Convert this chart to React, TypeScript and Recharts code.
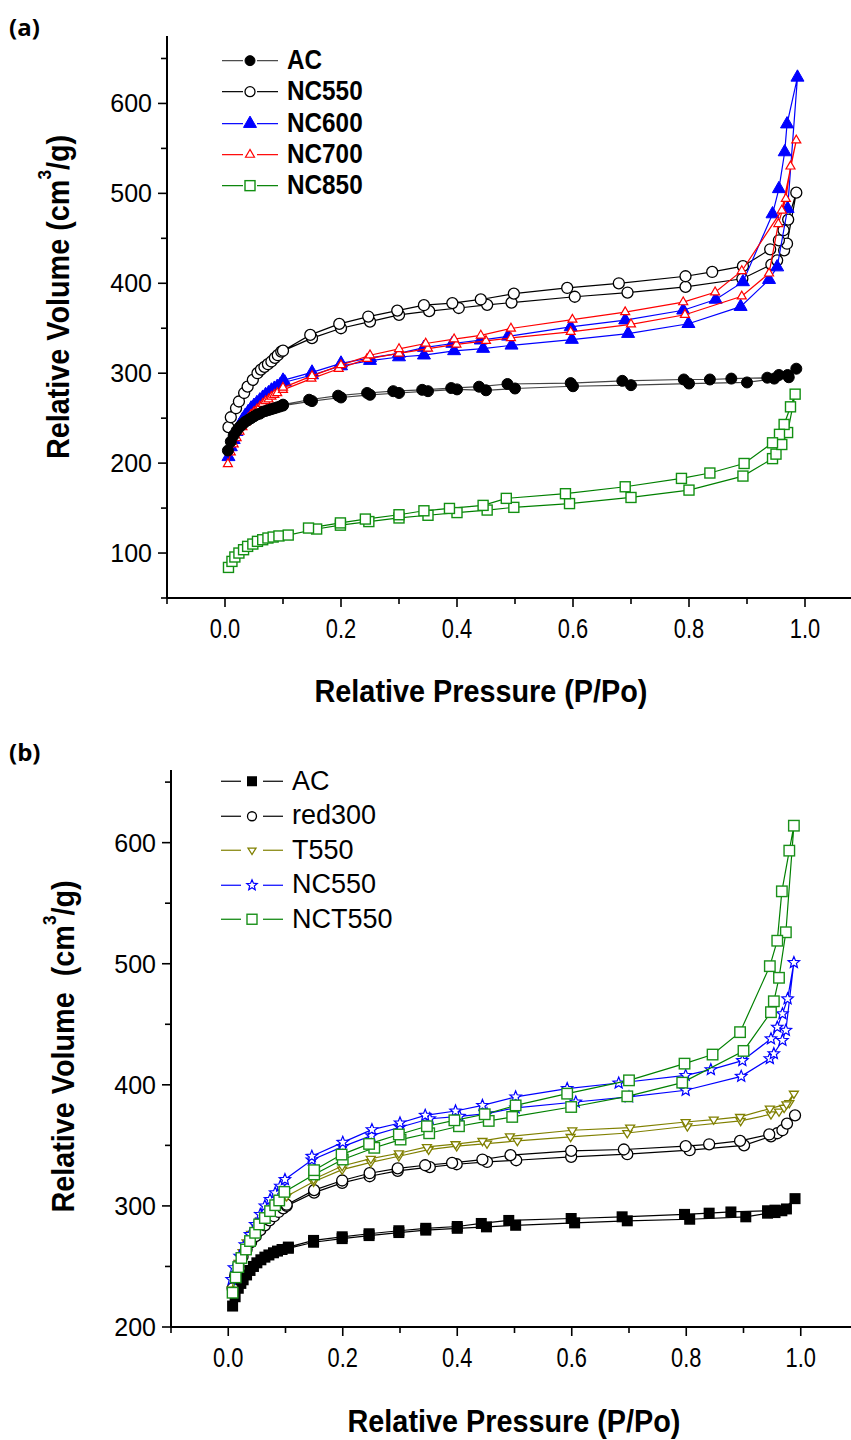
import React from "react";
import { ScatterChart, Scatter, XAxis, YAxis } from "recharts";

// ─── (a) data: P/Po and volume, adsorption then desorption ───────────────────
const acP = [0.005, 0.01, 0.015, 0.02, 0.025, 0.03, 0.035, 0.04, 0.045, 0.05, 0.055, 0.06, 0.065, 0.07, 0.075, 0.08, 0.085, 0.09, 0.095, 0.1,
  0.15, 0.2, 0.25, 0.3, 0.35, 0.4, 0.45, 0.5, 0.6, 0.7, 0.8, 0.9, 0.947, 0.972, 0.985,
  0.97, 0.955, 0.935, 0.873, 0.836, 0.791, 0.685, 0.596, 0.487, 0.438, 0.39, 0.34, 0.29, 0.245, 0.195, 0.145, 0.1];
const acV = [214, 224, 231, 236, 240, 243, 246, 248, 250, 252, 254, 255, 257, 258, 259, 260, 261, 262, 263, 264,
  269, 273, 276, 278, 280, 282, 281, 283, 285.5, 286.7, 288.5, 289.7, 294, 295.5, 305,
  298, 298, 295, 294, 293, 293, 291.5, 289, 288, 285, 283.5, 281.5, 280, 278, 275, 270.5, 265];

const nc550P = [0.006, 0.01, 0.019, 0.024, 0.033, 0.039, 0.048, 0.056, 0.062, 0.068, 0.074, 0.08, 0.086, 0.091, 0.097,
  0.15, 0.2, 0.25, 0.3, 0.352, 0.403, 0.452, 0.494, 0.603, 0.694, 0.794, 0.892, 0.942, 0.952, 0.964, 0.969, 0.985,
  0.971, 0.963, 0.955, 0.94, 0.893, 0.84, 0.794, 0.679, 0.59, 0.498, 0.441, 0.392, 0.343, 0.297, 0.247, 0.197, 0.147, 0.1];
const nc550V = [240, 251, 261, 268.5, 278, 285, 292.6, 300, 304, 307, 310, 313, 317, 320, 324,
  339, 350, 357.4, 364.8, 369, 372.5, 376, 378.5, 385, 389.7, 396, 405, 420.8, 425.5, 436.7, 444, 500.8,
  470.8, 459, 447.8, 437.8, 419, 412.6, 407.8, 400, 394.8, 388.5, 382, 378, 375.6, 369.6, 363, 354.8, 342.6, 325];

const nc600P = [0.006, 0.01, 0.015, 0.02, 0.025, 0.03, 0.035, 0.04, 0.045, 0.05, 0.055, 0.06, 0.065, 0.07, 0.075, 0.08, 0.085, 0.09, 0.095, 0.103,
  0.15, 0.2, 0.25, 0.3, 0.343, 0.395, 0.445, 0.494, 0.598, 0.695, 0.799, 0.889, 0.938, 0.952, 0.97, 0.987,
  0.969, 0.965, 0.955, 0.944, 0.893, 0.846, 0.79, 0.69, 0.596, 0.488, 0.441, 0.392, 0.343, 0.3, 0.25, 0.2, 0.15, 0.1];
const nc600V = [207, 218, 226, 235, 242, 248, 253, 257, 261, 264, 267, 270, 273, 276, 278, 281, 283, 285, 287, 290,
  298, 308, 314, 318, 320, 324.8, 327.4, 331, 337.4, 344, 355, 374, 404, 418, 483, 629,
  577, 546, 505, 477, 401.5, 382, 370, 359, 351.5, 341, 336.7, 333, 328.5, 322, 317, 311, 301, 292];

const nc700P = [0.005, 0.01, 0.015, 0.02, 0.025, 0.03, 0.035, 0.04, 0.045, 0.05, 0.055, 0.06, 0.065, 0.07, 0.075, 0.08, 0.085, 0.09, 0.1,
  0.149, 0.196, 0.245, 0.3, 0.35, 0.399, 0.45, 0.493, 0.596, 0.7, 0.793, 0.891, 0.938, 0.954, 0.967, 0.975, 0.985,
  0.96, 0.891, 0.845, 0.79, 0.69, 0.599, 0.493, 0.441, 0.395, 0.346, 0.3, 0.25, 0.2, 0.15, 0.1];
const nc700V = [199, 212, 221, 228, 235, 240, 245, 250, 254, 257, 260, 263, 266, 269, 271, 274, 276, 278, 281.5,
  294, 305, 316, 322, 327.4, 332, 336, 339.2, 346, 354.4, 365, 385.5, 411, 466, 494, 530, 559,
  481, 413.7, 390, 379, 368, 359.6, 349.7, 342, 337.8, 333, 327, 320, 309, 297, 284];

const nc850P = [0.006, 0.012, 0.017, 0.024, 0.032, 0.039, 0.048, 0.056, 0.065, 0.074, 0.083, 0.093, 0.109,
  0.158, 0.199, 0.248, 0.3, 0.35, 0.4, 0.452, 0.498, 0.594, 0.7, 0.8, 0.893, 0.944, 0.95, 0.96, 0.97, 0.983,
  0.975, 0.964, 0.956, 0.944, 0.895, 0.836, 0.787, 0.69, 0.587, 0.485, 0.445, 0.387, 0.343, 0.3, 0.242, 0.199, 0.144];
const nc850V = [84, 90.7, 95.6, 100, 103.7, 107.4, 110, 113, 114.8, 116.7, 117.8, 119, 120,
  126.7, 131, 135, 139, 142, 145, 147.8, 150.8, 155, 161.8, 170, 185.6, 205, 210, 220.7, 234, 276.7,
  262.6, 243, 232, 222.6, 199.6, 189, 183, 173.7, 166, 160.8, 153, 149.6, 147, 142.6, 137.8, 133.5, 127.8];

// ─── (b) data ────────────────────────────────────────────────────────────────
const acbP = [0.0076, 0.012, 0.0175, 0.022, 0.026, 0.032, 0.038, 0.044, 0.05, 0.057, 0.064, 0.071, 0.079, 0.086, 0.094, 0.105,
  0.149, 0.199, 0.246, 0.298, 0.345, 0.4, 0.451, 0.502, 0.605, 0.697, 0.806, 0.904, 0.942, 0.955, 0.967, 0.99,
  0.975, 0.955, 0.942, 0.878, 0.84, 0.797, 0.688, 0.599, 0.49, 0.442, 0.4, 0.345, 0.298, 0.246, 0.199, 0.149, 0.105];
const acbV = [217.3, 225, 232, 236, 239, 243, 246.7, 250, 253, 255.5, 257.7, 259.5, 261.3, 262.7, 264, 265,
  270, 273, 275.5, 278, 280, 281.5, 282.7, 284, 286, 287.7, 289, 291, 294, 294.5, 296, 306,
  297.5, 296.5, 296, 295, 294, 293, 291, 289.6, 288, 285.5, 283, 281.5, 279.5, 277, 274.5, 271.5, 266];

const red300P = [0.0076, 0.012, 0.018, 0.025, 0.032, 0.04, 0.048, 0.056, 0.064, 0.072, 0.08, 0.088, 0.096, 0.102,
  0.15, 0.199, 0.247, 0.296, 0.352, 0.399, 0.452, 0.503, 0.599, 0.697, 0.806, 0.901, 0.948, 0.959, 0.968, 0.99,
  0.976, 0.945, 0.894, 0.84, 0.799, 0.691, 0.599, 0.493, 0.444, 0.391, 0.344, 0.296, 0.247, 0.199, 0.15, 0.102];
const red300V = [232, 242, 250, 258, 264, 270, 275, 280, 284, 288, 291.5, 295, 298, 300,
  311, 319, 324.5, 329, 332, 334.4, 336.3, 337.7, 340.5, 342.7, 346, 350, 357.5, 360, 362.5, 374.8,
  368, 359, 353.7, 350.9, 349.3, 346.6, 345.4, 341.9, 338.3, 335.5, 333.6, 331, 327, 321, 313, 301];

const t550P = [0.006, 0.012, 0.018, 0.025, 0.032, 0.04, 0.048, 0.056, 0.064, 0.072, 0.08, 0.088, 0.096, 0.102,
  0.149, 0.199, 0.249, 0.298, 0.35, 0.399, 0.452, 0.505, 0.598, 0.697, 0.802, 0.895, 0.948, 0.962, 0.971, 0.98, 0.988,
  0.975, 0.946, 0.894, 0.848, 0.799, 0.702, 0.601, 0.492, 0.444, 0.397, 0.347, 0.298, 0.249, 0.199, 0.149];
const t550V = [231, 243, 253, 262, 270, 277, 283, 288, 292.5, 296.5, 300, 303, 306, 308,
  320, 330, 336, 341, 346.5, 349.3, 351.5, 353.7, 357, 360.2, 365.8, 370.2, 375.7, 378, 381, 385, 392.7,
  384, 380.4, 373.5, 371.3, 369.3, 364.7, 362.5, 357.5, 353.7, 351, 348.7, 343.5, 339, 333, 322];

const nc550bP = [0.006, 0.01, 0.02, 0.029, 0.038, 0.047, 0.056, 0.064, 0.073, 0.082, 0.091, 0.099,
  0.146, 0.2, 0.25, 0.3, 0.352, 0.404, 0.452, 0.502, 0.607, 0.7, 0.799, 0.896, 0.946, 0.953, 0.968, 0.974, 0.988,
  0.977, 0.968, 0.959, 0.948, 0.898, 0.843, 0.799, 0.682, 0.592, 0.502, 0.444, 0.397, 0.344, 0.3, 0.251, 0.2, 0.146];
const nc550bV = [239.3, 249, 258.5, 268, 276.4, 284.7, 293, 300, 305.3, 310.8, 316.3, 321.8,
  338, 349, 358, 365, 372, 374, 376.2, 381, 385.8, 390, 395.5, 407, 421.6, 425.7, 436.7, 445, 501,
  471, 458.7, 447.6, 438, 420, 412.5, 407.8, 401.5, 396.9, 390, 383, 378.4, 374.8, 368.5, 363, 352.5, 341];

const nct550P = [0.0076, 0.013, 0.0175, 0.023, 0.031, 0.038, 0.047, 0.054, 0.064, 0.073, 0.082, 0.089, 0.098,
  0.15, 0.2, 0.255, 0.301, 0.351, 0.403, 0.455, 0.496, 0.599, 0.697, 0.793, 0.9, 0.948, 0.953, 0.962, 0.974, 0.988,
  0.98, 0.967, 0.959, 0.946, 0.894, 0.846, 0.797, 0.7, 0.592, 0.502, 0.448, 0.395, 0.347, 0.298, 0.246, 0.198, 0.15];
const nct550V = [228.3, 241, 249.5, 257, 264, 271, 277.8, 284.7, 290, 295.7, 300.6, 304.5, 311.6,
  326, 338.3, 348, 354.8, 360, 365.8, 370.2, 373.5, 381.7, 390.5, 401.8, 428, 460, 469, 488.4, 526, 614,
  593.4, 559.8, 519, 498, 443.5, 425, 417.5, 403.7, 392.7, 383, 375.7, 370.7, 365.8, 359, 351.2, 342.4, 329.5];

// ─── axes ────────────────────────────────────────────────────────────────────
const xTicks = [-0.1, 0, 0.1, 0.2, 0.3, 0.4, 0.5, 0.6, 0.7, 0.8, 0.9, 1.0];
const yTicksA = [50, 100, 150, 200, 250, 300, 350, 400, 450, 500, 550, 600, 650];
const yTicksB = [200, 250, 300, 350, 400, 450, 500, 550, 600, 650];

const zip = (p: number[], v: number[]) => p.map((x, i) => ({ p: x, v: v[i] }));

const SANS = '"Liberation Sans", Arial, sans-serif';

type Kind = "circleFill" | "circleOpen" | "triFill" | "triOpen" | "triDownOpen" | "sqFill" | "sqOpen" | "starOpen";

function Marker({ kind, cx, cy, color, size }: { kind: Kind; cx: number; cy: number; color: string; size: number }) {
  if (cx == null || cy == null) return null;
  const s = size;
  switch (kind) {
    case "circleFill":
      return <circle cx={cx} cy={cy} r={s / 2} fill={color} stroke={color} strokeWidth={1} />;
    case "circleOpen":
      return <circle cx={cx} cy={cy} r={s / 2} fill="#fff" stroke={color} strokeWidth={1.3} />;
    case "triFill":
    case "triOpen": {
      const h = s * 0.87;
      const pts = `${cx},${cy - (h * 2) / 3} ${cx - s / 2},${cy + h / 3} ${cx + s / 2},${cy + h / 3}`;
      return kind === "triFill"
        ? <polygon points={pts} fill={color} stroke={color} strokeWidth={1} />
        : <polygon points={pts} fill="#fff" stroke={color} strokeWidth={1.2} />;
    }
    case "triDownOpen": {
      const h = s * 0.8;
      const pts = `${cx},${cy + (h * 2) / 3} ${cx - s / 2},${cy - h / 3} ${cx + s / 2},${cy - h / 3}`;
      return <polygon points={pts} fill="#fff" stroke={color} strokeWidth={1.3} />;
    }
    case "sqFill":
      return <rect x={cx - s / 2} y={cy - s / 2} width={s} height={s} fill={color} />;
    case "sqOpen":
      return <rect x={cx - s / 2} y={cy - s / 2} width={s} height={s} fill="#fff" stroke={color} strokeWidth={1.4} />;
    case "starOpen": {
      const pts: string[] = [];
      for (let i = 0; i < 10; i++) {
        const r = i % 2 === 0 ? s / 2 : s * 0.22;
        const a = -Math.PI / 2 + (i * Math.PI) / 5;
        pts.push(`${cx + r * Math.cos(a)},${cy + r * Math.sin(a)}`);
      }
      return <polygon points={pts.join(" ")} fill="#fff" stroke={color} strokeWidth={1.2} />;
    }
  }
  return null;
}

type Series = { name: string; data: { p: number; v: number }[]; color: string; line: string; kind: Kind; size: number; legendSize: number };

const seriesA: Series[] = [
  { name: "AC", data: zip(acP, acV), color: "#000", line: "#444", kind: "circleFill", size: 11, legendSize: 10 },
  { name: "NC550", data: zip(nc550P, nc550V), color: "#000", line: "#000", kind: "circleOpen", size: 11, legendSize: 10 },
  { name: "NC600", data: zip(nc600P, nc600V), color: "#0000ff", line: "#0000ff", kind: "triFill", size: 13, legendSize: 13 },
  { name: "NC700", data: zip(nc700P, nc700V), color: "#ff0000", line: "#ff0000", kind: "triOpen", size: 9, legendSize: 9 },
  { name: "NC850", data: zip(nc850P, nc850V), color: "#129012", line: "#008000", kind: "sqOpen", size: 10, legendSize: 10 },
];
// draw order: filled AC on top at low pressure
const drawOrderA = [4, 1, 2, 3, 0];

const seriesB: Series[] = [
  { name: "AC", data: zip(acbP, acbV), color: "#000", line: "#000", kind: "sqFill", size: 11, legendSize: 10 },
  { name: "red300", data: zip(red300P, red300V), color: "#000", line: "#000", kind: "circleOpen", size: 11, legendSize: 9 },
  { name: "T550", data: zip(t550P, t550V), color: "#808000", line: "#808000", kind: "triDownOpen", size: 9, legendSize: 8 },
  { name: "NC550", data: zip(nc550bP, nc550bV), color: "#0000ff", line: "#0000ff", kind: "starOpen", size: 12, legendSize: 11 },
  { name: "NCT550", data: zip(nct550P, nct550V), color: "#1a901a", line: "#008000", kind: "sqOpen", size: 10.5, legendSize: 10 },
];

// narrow-looking tick labels: regular sans squeezed horizontally
function XTick(props: any) {
  const { x, y, payload } = props;
  const v = payload.value as number;
  const t = Math.round(v * 10);
  const major = t % 2 === 0 && t >= 0;
  return (
    <g>
      <line x1={x} x2={x} y1={y} y2={y + (major ? 9 : 6)} stroke="#000" strokeWidth={1.6} />
      {major && (
        <text transform={`translate(${x},${y + 40}) scale(0.78,1)`} textAnchor="middle" fontSize={28} fontFamily={SANS} fill="#000">
          {(t / 10).toFixed(1)}
        </text>
      )}
    </g>
  );
}

function makeYTick(lo: number, hi: number) {
  return (props: any) => {
    const { x, y, payload } = props;
    const v = payload.value as number;
    const major = v % 100 === 0;
    return (
      <g>
        <line x1={x - (major ? 9 : 6)} x2={x} y1={y} y2={y} stroke="#000" strokeWidth={1.6} />
        {major && v >= lo && v <= hi && (
          <text x={x - 15} y={y + 9} textAnchor="end" fontSize={25} fontFamily={SANS} fill="#000">
            {v}
          </text>
        )}
      </g>
    );
  };
}

function yTitle(dx: number, dy: number, gap: string) {
  return (props: any) => {
    const vb = props.viewBox;
    const cx = vb.x + dx;
    const cy = vb.y + vb.height / 2 + dy;
    return (
      <text transform={`translate(${cx},${cy}) rotate(-90) scale(0.9,1)`} textAnchor="middle" dominantBaseline="central"
        fontSize={32} fontWeight="bold" fontFamily={SANS} fill="#000" style={{ whiteSpace: "pre" }}>
        {`Relative Volume${gap}(cm`}
        <tspan dy={-12} fontSize={19}>3</tspan>
        <tspan dy={12}>/g)</tspan>
      </text>
    );
  };
}

function xTitle(dx: number, dy: number) {
  return (props: any) => {
    const vb = props.viewBox;
    return (
      <text transform={`translate(${vb.x + dx},${vb.y + dy}) scale(0.9,1)`} textAnchor="middle" dominantBaseline="central"
        fontSize={32} fontWeight="bold" fontFamily={SANS} fill="#000">
        Relative Pressure (P/Po)
      </text>
    );
  };
}

function Legend({ series, top, left, rowH, bold, fontSize, squeeze, seg }: {
  series: Series[]; top: number; left: number; rowH: number; bold: boolean; fontSize: number; squeeze: number;
  seg: [number, number, number, number, number];
}) {
  const [a1, a2, mx, b1, b2] = seg;
  return (
    <div style={{ position: "absolute", top, left }}>
      {series.map((s) => (
        <div key={s.name} style={{ display: "flex", alignItems: "center", height: rowH }}>
          <svg width={b2 + 2} height={rowH} style={{ display: "block" }}>
            <line x1={a1} x2={a2} y1={rowH / 2} y2={rowH / 2} stroke={s.line} strokeWidth={1.2} />
            <line x1={b1} x2={b2} y1={rowH / 2} y2={rowH / 2} stroke={s.line} strokeWidth={1.2} />
            <Marker kind={s.kind} cx={mx} cy={rowH / 2} color={s.color} size={s.legendSize} />
          </svg>
          <span style={{
            marginLeft: 7, fontFamily: SANS, fontWeight: bold ? 700 : 400, fontSize, lineHeight: 1,
            display: "inline-block", transform: `scaleX(${squeeze})`, transformOrigin: "left center", whiteSpace: "nowrap",
          }}>
            {s.name}
          </span>
        </div>
      ))}
    </div>
  );
}

function Panel({ series, order, yDomain, yTicks, lo, hi, margin, yWidth, xHeight, titleY, titleX }: {
  series: Series[]; order: number[]; yDomain: [number, number]; yTicks: number[]; lo: number; hi: number;
  margin: { top: number; right: number; bottom: number; left: number }; yWidth: number; xHeight: number;
  titleY: (p: any) => React.ReactElement; titleX: (p: any) => React.ReactElement;
}) {
  return (
    <ScatterChart width={880} height={720} margin={margin}>
      <XAxis type="number" dataKey="p" domain={[-0.1, 1.1]} ticks={xTicks} allowDataOverflow
        axisLine={{ stroke: "#000", strokeWidth: 2 }} tickLine={false} tickSize={0} tickMargin={0}
        height={xHeight} tick={<XTick />} interval={0} label={titleX} />
      <YAxis type="number" dataKey="v" domain={yDomain} ticks={yTicks} allowDataOverflow
        axisLine={{ stroke: "#000", strokeWidth: 2 }} tickLine={false} tickSize={0} tickMargin={0}
        width={yWidth} tick={makeYTick(lo, hi)} interval={0} label={titleY} />
      {order.map((i) => {
        const s = series[i];
        return (
          <Scatter key={s.name} name={s.name} data={s.data} isAnimationActive={false}
            line={{ stroke: s.line, strokeWidth: 1.2 }} lineType="joint"
            shape={(p: any) => <Marker kind={s.kind} cx={p.cx} cy={p.cy} color={s.color} size={s.size} />} />
        );
      })}
    </ScatterChart>
  );
}

const panelLabel: React.CSSProperties = {
  position: "absolute", left: 9, fontFamily: '"Open Sans", sans-serif', fontWeight: 700, fontSize: 24, lineHeight: "30px",
};

export default function App() {
  return (
    <div style={{ position: "absolute", left: 0, top: 0, width: 851, height: 1440, overflow: "hidden", background: "#fff", fontFamily: SANS }}>
      <div style={{ position: "absolute", left: 0, top: 0 }}>
        <Panel series={seriesA} order={drawOrderA} yDomain={[50, 675]} yTicks={yTicksA} lo={100} hi={600}
          margin={{ top: 36, right: 17, bottom: 0, left: 0 }} yWidth={167} xHeight={122}
          titleY={yTitle(57, -20, " ")} titleX={xTitle(314, 92)} />
      </div>
      <div style={{ position: "absolute", left: 0, top: 720 }}>
        <Panel series={seriesB} order={[0, 1, 2, 3, 4]} yDomain={[200, 660]} yTicks={yTicksB} lo={200} hi={600}
          margin={{ top: 50, right: 22, bottom: 0, left: 0 }} yWidth={171} xHeight={113}
          titleY={yTitle(62, -2, "  ")} titleX={xTitle(343, 93)} />
      </div>
      <div style={{ ...panelLabel, top: 12 }}>(a)</div>
      <div style={{ ...panelLabel, top: 737 }}>(b)</div>
      <Legend series={seriesA} top={45} left={220} rowH={31.3} bold fontSize={27} squeeze={0.9} seg={[2, 23, 30, 37, 58]} />
      <Legend series={seriesB} top={764} left={219} rowH={34.5} bold={false} fontSize={27} squeeze={1} seg={[2, 22, 33, 44, 64]} />
    </div>
  );
}
